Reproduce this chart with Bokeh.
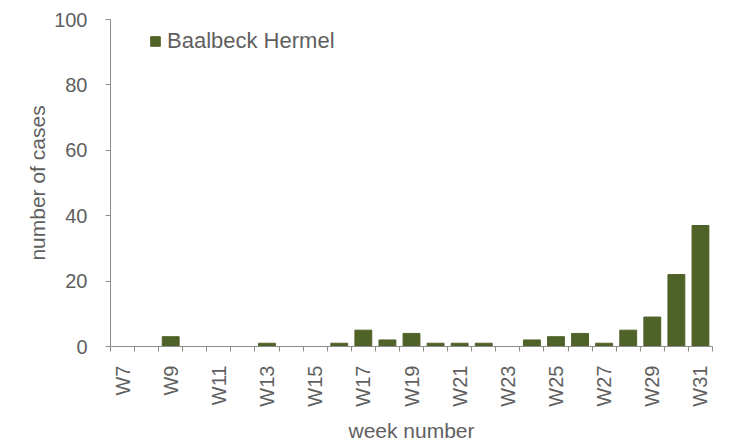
from bokeh.plotting import figure
from bokeh.models import FixedTicker, ColumnDataSource, Range1d, Legend, LegendItem
from bokeh.embed import file_html
from bokeh.resources import INLINE
import math

weeks = ["W7", "W8", "W9", "W10", "W11", "W12", "W13", "W14", "W15", "W16",
         "W17", "W18", "W19", "W20", "W21", "W22", "W23", "W24", "W25", "W26",
         "W27", "W28", "W29", "W30", "W31"]
cases = [0, 0, 3, 0, 0, 0, 1, 0, 0, 1,
         5, 2, 4, 1, 1, 1, 0, 2, 3, 4,
         1, 5, 9, 22, 37]
y_ticks = [0, 20, 40, 60, 80, 100]
series_name = "Baalbeck Hermel"

FONT = "Liberation Sans"
TXT = "#5f5f5f"
AX = "#8c8c8c"
BAR = "#4f6228"

xs = [i + 0.5 for i in range(len(weeks))]
src = ColumnDataSource(dict(x=xs, top=cases, week=weeks))

p = figure(width=733, height=448, output_backend="svg", toolbar_location=None,
           x_range=Range1d(0, len(weeks)), y_range=Range1d(0, 100),
           min_border_left=110, min_border_right=21, min_border_top=19, min_border_bottom=102)
p.outline_line_color = None
p.xgrid.visible = False
p.ygrid.visible = False

r = p.vbar(x="x", top="top", width=0.7, source=src, fill_color=BAR, line_color=BAR)

# x axis
label_pos = [xs[i] for i in range(0, len(weeks), 2)]
p.xaxis.ticker = FixedTicker(ticks=label_pos, minor_ticks=list(range(len(weeks) + 1)))
p.xaxis.major_label_overrides = {xs[i]: weeks[i] for i in range(0, len(weeks), 2)}
p.xaxis.major_label_orientation = math.pi / 2
p.xaxis.major_tick_out = 0
p.xaxis.major_tick_in = 0
p.xaxis.minor_tick_out = 5
p.xaxis.minor_tick_in = 0
p.xaxis.minor_tick_line_color = AX
p.xaxis.axis_line_color = AX
p.xaxis.axis_label = "week number"
p.xaxis.axis_label_text_font = FONT
p.xaxis.axis_label_text_font_style = "normal"
p.xaxis.axis_label_text_font_size = "21px"
p.xaxis.axis_label_text_color = TXT
p.xaxis.axis_label_standoff = 9
p.xaxis.major_label_text_font = FONT
p.xaxis.major_label_text_font_size = "20px"
p.xaxis.major_label_text_color = TXT
p.xaxis.major_label_standoff = 14

# y axis
p.yaxis.ticker = FixedTicker(ticks=y_ticks)
p.yaxis.major_tick_out = 5
p.yaxis.major_tick_in = 0
p.yaxis.minor_tick_line_color = None
p.yaxis.axis_line_color = AX
p.yaxis.major_tick_line_color = AX
p.yaxis.axis_label = "number of cases"
p.yaxis.axis_label_text_font = FONT
p.yaxis.axis_label_text_font_style = "normal"
p.yaxis.axis_label_text_font_size = "21px"
p.yaxis.axis_label_text_color = TXT
p.yaxis.axis_label_standoff = 2
p.yaxis.major_label_text_font = FONT
p.yaxis.major_label_text_font_size = "20px"
p.yaxis.major_label_text_color = TXT
p.yaxis.major_label_standoff = 18

legend = Legend(items=[LegendItem(label=series_name, renderers=[r])],
                location=(39, 292), border_line_color=None, background_fill_alpha=0,
                label_text_font=FONT, label_text_font_size="22px", label_text_color=TXT,
                glyph_width=12, glyph_height=12, label_height=22, label_standoff=6,
                padding=0, margin=0)
p.add_layout(legend, "center")

open("out.html", "w").write(file_html(p, INLINE))
